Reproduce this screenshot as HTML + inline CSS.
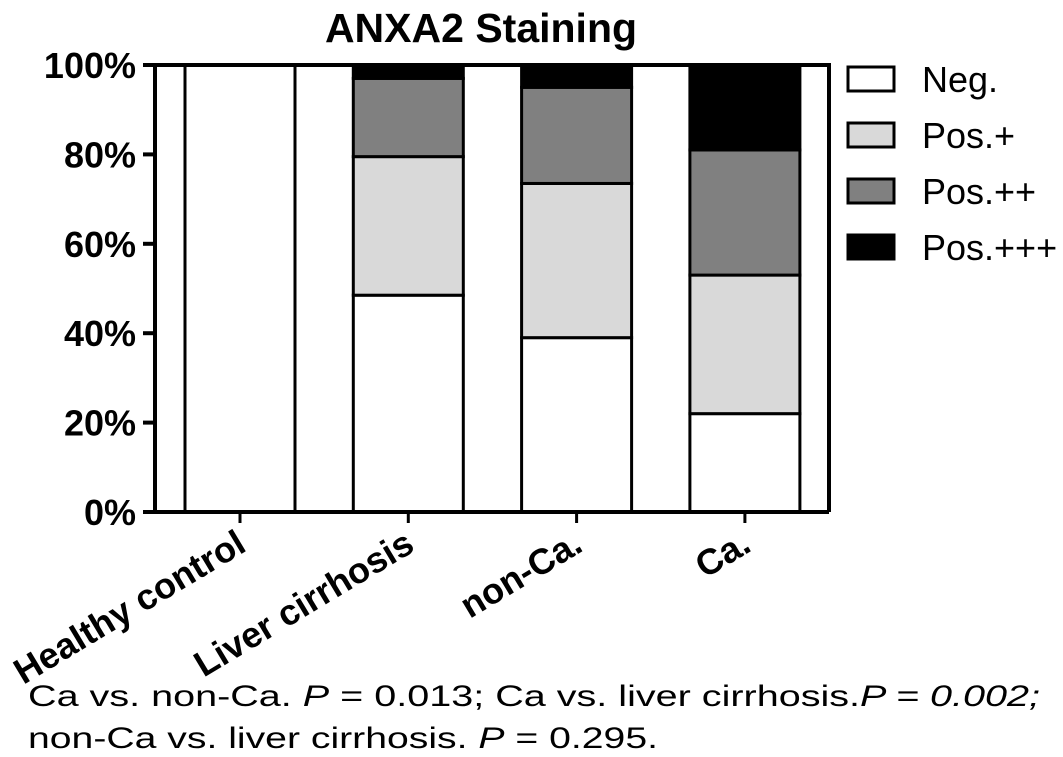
<!DOCTYPE html>
<html><head><meta charset="utf-8"><style>body{margin:0;background:#fff}svg{display:block;font-family:"Liberation Sans",Arial,sans-serif}</style></head>
<body>
<svg id="c" width="1063" height="757" xmlns="http://www.w3.org/2000/svg">
<text x="481" y="42" font-size="41" font-weight="bold" text-anchor="middle">ANXA2 Staining</text>
<g id="plot"></g>
<text x="28" y="706" font-size="30" textLength="1012" lengthAdjust="spacingAndGlyphs">Ca vs. non-Ca. <tspan font-style="italic">P</tspan> = 0.013; Ca vs. liver cirrhosis.<tspan font-style="italic">P = 0.002;</tspan></text>
<text x="28" y="748" font-size="30" textLength="630" lengthAdjust="spacingAndGlyphs">non-Ca vs. liver cirrhosis. <tspan font-style="italic">P</tspan> = 0.295.</text>
</svg>
<script>
const categories=["Healthy control","Liver cirrhosis","non-Ca.","Ca."];
const seriesNames=["Neg.","Pos.+","Pos.++","Pos.+++"];
const neg=[100,48.5,39,22];
const pos1=[0,31,34.5,31];
const pos2=[0,17.5,21.5,28];
const pos3=[0,3,5,19];
const yTicks=[0,20,40,60,80,100];
const colors=["#ffffff","#d9d9d9","#808080","#000000"];
const NS="http://www.w3.org/2000/svg";
const g=document.getElementById('plot');
const X0=155,X1=829,Y0=512,Y1=65;
const y=v=>Y0-(v/100)*(Y0-Y1);
const xc=i=>240+i*168.3;
const BW=110;
function mk(t,a){const e=document.createElementNS(NS,t);for(const k in a)e.setAttribute(k,a[k]);g.appendChild(e);return e;}
const series=[neg,pos1,pos2,pos3];
categories.forEach((c,i)=>{let base=0;series.forEach((s,j)=>{const v=s[i];if(v>0){const r=mk('rect',{x:xc(i)-BW/2,y:y(base+v),width:BW,height:y(base)-y(base+v),fill:colors[j],stroke:'#000','stroke-width':3});

}base+=v;});
const tk=mk('line',{x1:xc(i),x2:xc(i),y1:Y0,y2:Y0+11,stroke:'#000','stroke-width':3});


const t=mk('text',{x:0,y:0,'font-size':36,'font-weight':'bold','text-anchor':'end',transform:`translate(${xc(i)+8},${Y0+38}) rotate(-31)`});t.textContent=c;

});
const fr=mk('path',{d:`M${X0},${Y0}V${Y1}H${X1}V${Y0}M${X0-12},${Y0}H${X1}`,fill:'none',stroke:'#000','stroke-width':4});


yTicks.forEach(v=>{const l=mk('line',{x1:X0-12,x2:X0,y1:y(v),y2:y(v),stroke:'#000','stroke-width':4});


const t=mk('text',{x:136,y:y(v)+13,'font-size':36,'font-weight':'bold','text-anchor':'end'});t.textContent=v+'%';

});
seriesNames.forEach((n,j)=>{const yy=67+j*56;const r=mk('rect',{x:848,y:yy,width:46,height:24,fill:colors[j],stroke:'#000','stroke-width':3});


const t=mk('text',{x:922,y:yy+25,'font-size':36});t.textContent=n;

});
</script>
</body></html>
